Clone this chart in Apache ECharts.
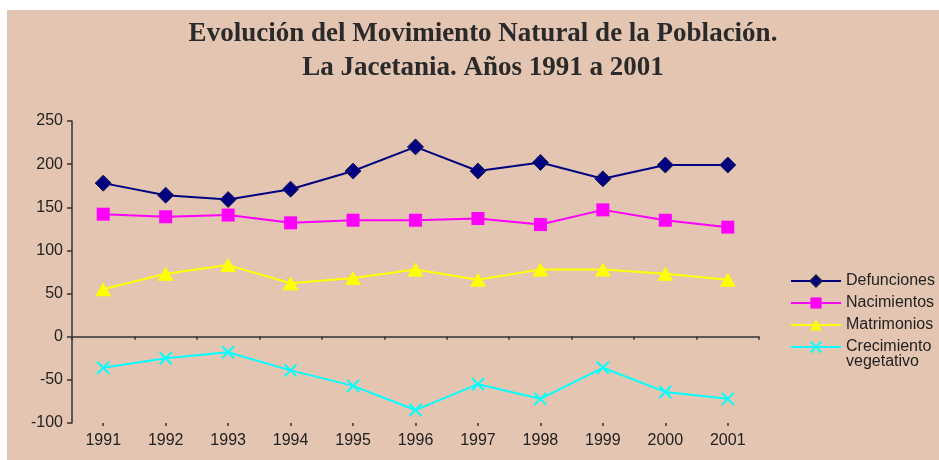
<!DOCTYPE html>
<html>
<head>
<meta charset="utf-8">
<script src="https://cdn.jsdelivr.net/npm/echarts@6/dist/echarts.min.js"></script>
<style>
html,body{margin:0;padding:0;background:#ffffff;width:939px;height:460px;overflow:hidden;}
#chart{position:absolute;left:7px;top:10px;width:932px;height:450px;}
</style>
</head>
<body>
<div id="chart"></div>
<script>
const categories = ['1991','1992','1993','1994','1995','1996','1997','1998','1999','2000','2001'];
const defunciones = [178, 164, 159, 171, 192, 220, 192, 202, 183, 199, 199];
const nacimientos = [142, 139, 141, 132, 135, 135, 137, 130, 147, 135, 127];
const matrimonios = [55, 73, 83, 62, 68, 78, 66, 78, 78, 73, 66];
const crecimiento = [-36, -25, -18, -39, -57, -85, -55, -72, -36, -64, -72];
const yTicks = {min: -100, max: 250, interval: 50};

const chart = echarts.init(document.getElementById('chart'), null, {renderer: 'canvas'});
const axisFont = {fontFamily: 'Liberation Sans', fontSize: 16, color: '#222'};
const lineCol = '#333';
const crossPath = 'path://M0,0L10,10M10,0L0,10';

chart.setOption({
  backgroundColor: '#E4C5B1',
  animation: false,
  title: {
    text: 'Evolución del Movimiento Natural de la Población.\nLa Jacetania. Años 1991 a 2001',
    left: 471, top: 2, textAlign: 'center',
    textStyle: {fontFamily: 'Liberation Serif', fontWeight: 'bold', fontSize: 27, lineHeight: 34, color: '#2a2a2a'}
  },
  legend: [{
    orient: 'vertical', left: 783, top: 262, padding: 0, itemWidth: 50, itemHeight: 14, itemGap: 4,
    textStyle: {fontFamily: 'Liberation Sans', fontSize: 16, lineHeight: 18, color: '#222'},
    data: ['Defunciones', 'Nacimientos', 'Matrimonios']
  }, {
    orient: 'vertical', left: 783, top: 314, padding: 0, itemWidth: 50, itemHeight: 14,
    textStyle: {fontFamily: 'Liberation Sans', fontSize: 16, lineHeight: 15, color: '#222'},
    formatter: function (name) { return ' \n' + name; },
    data: ['Crecimiento\nvegetativo']
  }],
  grid: {left: 65, right: 180, top: 111, bottom: 37},
  xAxis: [{
    type: 'category', data: categories, boundaryGap: true, position: 'bottom',
    axisLine: {show: false, onZero: false}, axisTick: {show: false},
    axisLabel: Object.assign({margin: 10}, axisFont)
  }, {
    type: 'category', data: categories, boundaryGap: true, position: 'bottom',
    axisLine: {show: true, onZero: true, lineStyle: {color: lineCol, width: 1.5}},
    axisTick: {show: true, length: 3, lineStyle: {color: lineCol, width: 1.5}},
    axisLabel: {show: false}
  }, {
    type: 'category', data: categories, boundaryGap: true, position: 'bottom',
    axisLine: {show: false, onZero: true},
    axisTick: {show: true, alignWithLabel: true, length: 3, lineStyle: {color: lineCol, width: 1.5}},
    axisLabel: {show: false}
  }],
  yAxis: {
    type: 'value', min: yTicks.min, max: yTicks.max, interval: yTicks.interval,
    axisLine: {show: true, lineStyle: {color: lineCol, width: 1.5}},
    axisTick: {show: true, length: 5, lineStyle: {color: lineCol, width: 1.5}},
    splitLine: {show: false},
    axisLabel: Object.assign({margin: 9}, axisFont)
  },
  series: [{
    name: 'Defunciones', type: 'line', data: defunciones,
    symbol: 'diamond', symbolSize: 16,
    lineStyle: {color: '#000080', width: 2},
    itemStyle: {color: '#000080', borderColor: '#1a1a50', borderWidth: 1}
  }, {
    name: 'Nacimientos', type: 'line', data: nacimientos,
    symbol: 'rect', symbolSize: 13,
    lineStyle: {color: '#FF00FF', width: 2},
    itemStyle: {color: '#FF00FF'}
  }, {
    name: 'Matrimonios', type: 'line', data: matrimonios,
    symbol: 'triangle', symbolSize: [16, 14],
    lineStyle: {color: '#FFFF00', width: 2},
    itemStyle: {color: '#FFFF00'}
  }, {
    name: 'Crecimiento\nvegetativo', type: 'line', data: crecimiento,
    symbol: crossPath, symbolSize: 12,
    lineStyle: {color: '#00FFFF', width: 2},
    itemStyle: {color: 'rgba(0,0,0,0)', borderColor: '#00FFFF', borderWidth: 2}
  }]
});
</script>
</body>
</html>
